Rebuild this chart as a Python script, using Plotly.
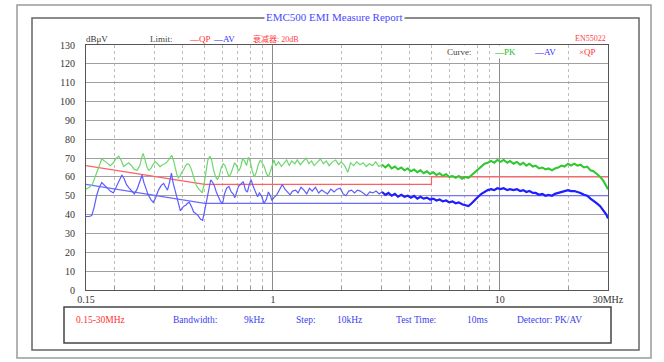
import plotly.graph_objects as go

# ---------------- data ----------------
pk_freq = [
    0.150, 0.155, 0.160, 0.167, 0.172, 0.176, 0.181, 0.186, 0.192, 0.198,
    0.204, 0.209, 0.214, 0.220, 0.226, 0.231, 0.238, 0.245, 0.252, 0.259,
    0.265, 0.268, 0.273, 0.279, 0.284, 0.290, 0.296, 0.303, 0.310, 0.318,
    0.326, 0.334, 0.342, 0.350, 0.358, 0.365, 0.372, 0.378, 0.383, 0.390,
    0.397, 0.405, 0.412, 0.420, 0.428, 0.437, 0.447, 0.458, 0.468, 0.478,
    0.488, 0.497, 0.507, 0.517, 0.527, 0.537, 0.548, 0.559, 0.570, 0.581,
    0.592, 0.604, 0.615, 0.627, 0.640, 0.652, 0.665, 0.678, 0.692, 0.705,
    0.720, 0.735, 0.750, 0.765, 0.780, 0.795, 0.812, 0.828, 0.845, 0.862,
    0.880, 0.898, 0.916, 0.935, 0.955, 0.975, 0.990, 1.010,
    1.03, 1.06, 1.09, 1.12, 1.15, 1.18, 1.21, 1.25, 1.28, 1.32,
    1.36, 1.40, 1.44, 1.48, 1.52, 1.57, 1.62, 1.67, 1.72, 1.77,
    1.83, 1.89, 1.95, 2.00, 2.07, 2.14, 2.20, 2.27, 2.34, 2.42,
    2.50, 2.58, 2.66, 2.75, 2.84, 2.93, 3.03, 3.13, 3.23, 3.34,
    3.45, 3.56, 3.68, 3.80, 3.93, 4.06, 4.19, 4.33, 4.47, 4.62,
    4.77, 4.93, 5.09, 5.26, 5.43, 5.61, 5.80, 5.99, 6.19, 6.39,
    6.60, 6.82, 7.05, 7.28, 7.52, 7.77, 8.03, 8.30, 8.57, 8.85,
    9.15, 9.45, 9.76, 10.08, 10.4, 10.8, 11.1, 11.5, 11.9, 12.3,
    12.7, 13.1, 13.5, 14.0, 14.4, 14.9, 15.4, 15.9, 16.4, 17.0,
    17.5, 18.1, 18.7, 19.3, 20.0, 20.6, 21.3, 22.0, 22.7, 23.5,
    24.3, 25.1, 25.9, 26.8, 27.7, 28.6, 29.5, 30.0,
]
pk_db = [
    53.5, 54.5, 56, 62, 67, 69.5, 68.5, 67.5, 66, 67.5,
    70, 71, 69, 65.5, 66.5, 67.5, 66, 64, 63.5, 66,
    71, 72.5, 69, 65, 63.5, 64.5, 66.5, 68, 67, 65.5,
    66.5, 67, 68, 70, 71.5, 68.5, 64, 61, 59.5, 60.5,
    62.5, 64, 66, 67, 66.5, 64, 60, 56, 54, 52.5,
    51.5, 56, 63, 69, 71, 69, 63.5, 60, 58.5, 61,
    65, 67, 66, 63, 60, 61.5, 64.5, 67.5, 66, 63,
    65, 69.5, 68.5, 66, 70.5, 68, 63, 60, 62.5, 66.5,
    69, 67, 65.5, 62, 60, 63, 66, 69,
    66, 68, 65.5, 67.5, 69, 66, 68.5, 67, 69, 66.5,
    68, 70, 67, 68.5, 66, 68, 69.5, 67, 68.5, 66,
    68, 69, 66.5, 68, 66, 62.5, 67.5, 66, 68, 66.5,
    67.5, 65.5, 67, 66, 68, 65.5, 66.5, 65, 66.5, 64.5,
    65.5, 64, 65, 63.5, 64.5, 63, 64, 62.5, 63.5, 62,
    63, 61.5, 62.5, 61, 62, 60.5, 61.5, 60, 60.5, 59.5,
    60.5, 59, 60, 59.5, 61, 62.5, 64.5, 66, 67, 67.5,
    68.5, 67.5, 69, 68, 69, 67.5, 68.5, 67, 68, 66.5,
    67.5, 66, 67, 65.5, 66, 64.5, 65, 64, 64.5, 63.5,
    64.5, 65, 66, 65.5, 67, 66, 67, 66, 66.5, 65,
    65.5, 63.5, 63, 61.5, 60, 58, 55.5, 53.5,
]

av_freq = [
    0.150, 0.155, 0.159, 0.163, 0.167, 0.171, 0.176, 0.181, 0.186, 0.192,
    0.198, 0.204, 0.210, 0.216, 0.221, 0.226, 0.231, 0.238, 0.245, 0.252,
    0.259, 0.265, 0.270, 0.276, 0.282, 0.290, 0.297, 0.304, 0.313, 0.322,
    0.330, 0.337, 0.343, 0.350, 0.357, 0.363, 0.370, 0.377, 0.384, 0.391,
    0.398, 0.405, 0.413, 0.420, 0.428, 0.437, 0.447, 0.458, 0.468, 0.480,
    0.490, 0.500, 0.510, 0.520, 0.532, 0.543, 0.553, 0.563, 0.575, 0.587,
    0.600, 0.612, 0.625, 0.640, 0.655, 0.668, 0.680, 0.692, 0.705, 0.720,
    0.740, 0.757, 0.772, 0.787, 0.802, 0.818, 0.835, 0.856, 0.872, 0.890,
    0.914, 0.935, 0.955, 0.975, 0.990, 1.010,
    1.04, 1.07, 1.10, 1.13, 1.16, 1.19, 1.22, 1.26, 1.29, 1.33,
    1.37, 1.41, 1.45, 1.49, 1.54, 1.59, 1.64, 1.69, 1.74, 1.80,
    1.86, 1.92, 1.98, 2.04, 2.10, 2.16, 2.22, 2.29, 2.36, 2.43,
    2.51, 2.59, 2.67, 2.76, 2.85, 2.94, 3.03, 3.13, 3.23, 3.34,
    3.45, 3.56, 3.68, 3.80, 3.93, 4.06, 4.19, 4.33, 4.47, 4.62,
    4.77, 4.93, 5.09, 5.26, 5.43, 5.61, 5.80, 5.99, 6.19, 6.39,
    6.60, 6.82, 7.05, 7.28, 7.52, 7.77, 8.03, 8.30, 8.57, 8.85,
    9.15, 9.45, 9.76, 10.08, 10.4, 10.8, 11.1, 11.5, 11.9, 12.3,
    12.7, 13.1, 13.5, 14.0, 14.4, 14.9, 15.4, 15.9, 16.4, 17.0,
    17.5, 18.1, 18.7, 19.3, 20.0, 20.6, 21.3, 22.0, 22.7, 23.5,
    24.3, 25.1, 25.9, 26.8, 27.7, 28.6, 29.5, 30.0,
]
av_db = [
    39, 39, 39.5, 44, 50, 54, 57, 55.5, 54, 52.5,
    51.5, 55, 58.5, 61, 59, 56, 54.5, 53, 51, 53.5,
    58, 61, 57, 53, 50.5, 48, 46.5, 49, 53, 55.5,
    56.5, 54.5, 53, 57, 62, 57, 53, 49, 45.5, 42,
    43.5, 44.5, 45, 46, 46.5, 44.5, 41.5, 40.5, 39.5, 37.5,
    37, 42, 47, 52, 58.5, 57, 55, 52, 49.5, 47,
    46, 51, 54, 55, 52, 51, 49, 52, 55, 56,
    57.5, 53, 52, 56, 58.5, 55, 52, 49.5, 51.5, 50,
    46, 48, 52, 50, 47.5, 49,
    50.5, 53, 56, 53.5, 52, 50.5, 52.5, 53, 51.5, 54.5,
    53, 51, 54, 52.5, 54.5, 51.5, 53, 52, 51, 53.5,
    52, 53.5, 54, 51, 50, 52.5, 53, 51.5, 53, 52.5,
    51, 50, 52, 51.5, 52.5, 51, 52, 50.5, 51.5, 50,
    51, 49.5, 50.5, 49.5, 50, 49, 50, 48.5, 49.5, 48.5,
    49, 48, 48.5, 47.5, 48, 47, 47.5, 46.5, 47, 46,
    46.5, 45.5, 45, 44.5, 46, 48, 49.5, 51, 52, 53,
    53.5, 53, 54, 53.5, 54, 53, 53.5, 53, 53.5, 52.5,
    53, 52, 52.5, 51.5, 51.5, 50.5, 51, 50, 50.5, 50,
    51, 51.5, 52, 52.5, 53, 52.5, 52.5, 52, 51.5, 50.5,
    50, 48.5, 47.5, 46, 44.5, 42.5, 40, 38,
]

qp_limit_freq = [0.15, 0.5, 5, 5, 30]
qp_limit_db = [66, 56, 56, 60, 60]
av_limit_freq = [0.15, 0.5, 5, 5, 30]
av_limit_db = [56, 46, 46, 50, 50]

y_tick_vals = list(range(0, 131, 10))
x_tick_vals = [0.15, 1, 10, 30]
x_tick_text = ["0.15", "1", "10", "30MHz"]
x_minor_vals = [0.2, 0.3, 0.4, 0.5, 0.6, 0.7, 0.8, 0.9, 2, 3, 4, 5, 6, 7, 8, 9, 20]

assert len(pk_freq) == len(pk_db)
assert len(av_freq) == len(av_db)

# dense part of each sweep, where the receiver trace renders as a solid band
DENSE_FROM = 3.0
pk_dense = [(f, v) for f, v in zip(pk_freq, pk_db) if f >= DENSE_FROM]
av_dense = [(f, v) for f, v in zip(av_freq, av_db) if f >= DENSE_FROM]

# ---------------- layout helpers (pixel -> paper) ----------------
W, H = 664, 362
L, R, T, B = 86, 56, 45, 72
PW, PH = W - L - R, H - T - B


def px(x):
    return (x - L) / PW


def py(y):
    return (H - B - y) / PH


SERIF = "Liberation Serif, DejaVu Serif, Noto Sans CJK SC, serif"

fig = go.Figure()
fig.add_trace(go.Scatter(x=qp_limit_freq, y=qp_limit_db, mode="lines",
                         line=dict(color="#ff6060", width=1.2), hoverinfo="skip"))
fig.add_trace(go.Scatter(x=av_limit_freq, y=av_limit_db, mode="lines",
                         line=dict(color="#6a6aff", width=1.2), hoverinfo="skip"))
fig.add_trace(go.Scatter(x=pk_freq, y=pk_db, mode="lines",
                         line=dict(color="#6cd86c", width=1.2)))
fig.add_trace(go.Scatter(x=[p[0] for p in pk_dense], y=[p[1] for p in pk_dense],
                         mode="lines", line=dict(color="#30c830", width=2.0)))
fig.add_trace(go.Scatter(x=av_freq, y=av_db, mode="lines",
                         line=dict(color="#5c5cff", width=1.2)))
fig.add_trace(go.Scatter(x=[p[0] for p in av_dense], y=[p[1] for p in av_dense],
                         mode="lines", line=dict(color="#2020ff", width=2.2)))

shapes = []
# outer frame, inner frame, bottom info box
shapes.append(dict(type="rect", xref="paper", yref="paper",
                   x0=px(17), x1=px(651), y0=py(358), y1=py(5),
                   line=dict(color="#9a9a9a", width=1.5), layer="below"))
shapes.append(dict(type="rect", xref="paper", yref="paper",
                   x0=px(32), x1=px(639), y0=py(350), y1=py(18),
                   line=dict(color="#666666", width=1.5), layer="below"))
shapes.append(dict(type="rect", xref="paper", yref="paper",
                   x0=px(64), x1=px(611), y0=py(343), y1=py(307),
                   line=dict(color="#444444", width=1.5), layer="below"))

annotations = []


def txt(text, x, y, color, size=9, anchor="left", bg=None):
    d = dict(text=text, x=px(x), y=py(y), xref="paper", yref="paper",
             xanchor=anchor, yanchor="middle", showarrow=False,
             font=dict(family=SERIF, size=size, color=color))
    if bg:
        d["bgcolor"] = bg
        d["borderpad"] = 1
    annotations.append(d)


txt("EMC500 EMI Measure Report", 334, 17, "#4848ff", size=11, anchor="center", bg="white")
txt("dBμV", 84, 39, "#333333")
txt("Limit:", 148, 39, "#444444")
txt("—QP", 187, 39, "#ff3030")
txt("—AV", 211, 39, "#3030ff")
txt("衰减器: 20dB", 251, 39, "#ff4040", size=8)
txt("EN55022", 573, 38, "#ff4040", size=8)
txt("Curve:", 445, 52, "#444444", bg="white")
txt("—PK", 492, 52, "#22bb22", bg="white")
txt("—AV", 532, 52, "#3030ff", bg="white")
txt("×QP", 577, 52, "#ff3030", bg="white")

info_y = 320
txt("0.15-30MHz", 74, info_y, "#ff3030", size=9.5)
txt("Bandwidth:", 171, info_y, "#4040ee", size=9.5)
txt("9kHz", 242, info_y, "#4040ee", size=9.5)
txt("Step:", 294, info_y, "#4040ee", size=9.5)
txt("10kHz", 335, info_y, "#4040ee", size=9.5)
txt("Test Time:", 394, info_y, "#4040ee", size=9.5)
txt("10ms", 465, info_y, "#4040ee", size=9.5)
txt("Detector: PK/AV", 515, info_y, "#4040ee", size=9.5)

fig.update_layout(
    width=W, height=H,
    margin=dict(l=L, r=R, t=T, b=B, pad=0),
    paper_bgcolor="white",
    plot_bgcolor="rgba(0,0,0,0)",
    showlegend=False,
    shapes=shapes,
    annotations=annotations,
    font=dict(family=SERIF, size=10, color="#333333"),
)
fig.update_xaxes(
    type="log", range=[-0.82391, 1.47712],
    tickmode="array", tickvals=x_tick_vals, ticktext=x_tick_text,
    showgrid=True, gridcolor="#8c8c8c", gridwidth=1,
    showline=True, linecolor="#555555", linewidth=1, mirror=True,
    ticks="", tickfont=dict(family=SERIF, size=10, color="#333333"),
    zeroline=False,
    minor=dict(tickvals=x_minor_vals, showgrid=True, gridcolor="#bdbdbd",
               griddash="dot", gridwidth=1, ticks="inside", ticklen=4,
               tickcolor="#999999"),
)
fig.update_yaxes(
    range=[0, 130], tickmode="array", tickvals=y_tick_vals,
    showgrid=True, gridcolor="#a0a0a0", gridwidth=1,
    showline=True, linecolor="#555555", linewidth=1, mirror=True,
    ticks="", ticklabelstandoff=8,
    tickfont=dict(family=SERIF, size=10, color="#333333"),
    zeroline=False,
)

fig.write_html("out.html")
